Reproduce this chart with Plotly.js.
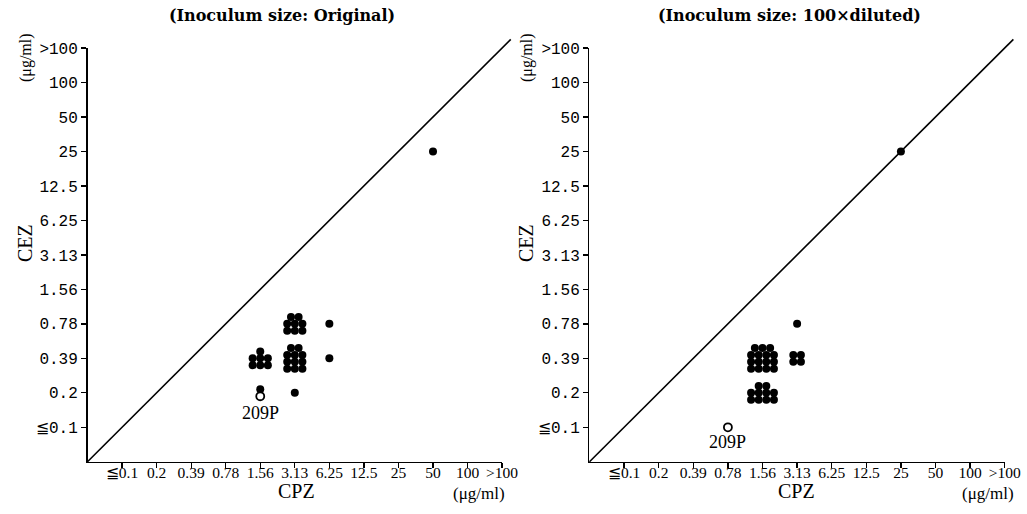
<!DOCTYPE html>
<html>
<head>
<meta charset="utf-8">
<script src="https://cdn.plot.ly/plotly-3.0.1.min.js"></script>
<style>html,body{margin:0;padding:0;background:#fff;}#chart{width:1027px;height:514px;}</style>
</head>
<body>
<div id="chart"></div>
<script>
// MIC scale (tick labels, in order from low to high)
const micLabels = ['≦0.1', '0.2', '0.39', '0.78', '1.56', '3.13', '6.25', '12.5', '25', '50', '100', '>100'];

// Panel 1: Inoculum size Original — each entry = MIC cell (CPZ, CEZ) with number of strains
const origCPZ   = ['50', '1.56', '1.56', '3.13', '3.13', '3.13', '6.25', '6.25'];
const origCEZ   = ['25', '0.39', '0.2',  '0.2',  '0.78', '0.39', '0.78', '0.39'];
const origCount = [1, 7, 1, 1, 8, 11, 1, 1];
const origCols  = [1, 3, 1, 1, 3, 3, 1, 1];
const origOpenCPZ = ['1.56'];
const origOpenCEZ = ['0.2'];
const origOpenName = ['209P'];

// Panel 2: Inoculum size 100x diluted
const dilCPZ   = ['25', '3.13', '3.13', '1.56', '1.56'];
const dilCEZ   = ['25', '0.78', '0.39', '0.39', '0.2'];
const dilCount = [1, 1, 4, 15, 10];
const dilCols  = [1, 1, 2, 4, 4];
const dilOpenCPZ = ['0.78'];
const dilOpenCEZ = ['≦0.1'];
const dilOpenName = ['209P'];

const lvl = v => micLabels.indexOf(v) + 1;
const DX = 0.22, DY = 0.2;

function buildCluster(cpz, cez, count, cols, openCPZ, openCEZ) {
  const fx = [], fy = [], ox = [], oy = [];
  cpz.forEach((c, i) => {
    const cx = lvl(c), cy = lvl(cez[i]);
    const kinds = [];
    for (let k = 0; k < count[i]; k++) kinds.push('f');
    openCPZ.forEach((oc, j) => { if (oc === c && openCEZ[j] === cez[i]) kinds.push('o'); });
    const n = kinds.length, nc = Math.min(cols[i], n);
    const rows = Math.ceil(n / nc);
    const first = n - (rows - 1) * nc;
    let idx = 0;
    for (let r = 0; r < rows; r++) {
      const k = r === 0 ? first : nc;
      for (let j = 0; j < k; j++) {
        const x = cx + (j - (k - 1) / 2) * DX;
        const y = cy + ((rows - 1) / 2 - r) * DY;
        if (kinds[idx] === 'f') { fx.push(x); fy.push(y); } else { ox.push(x); oy.push(y); }
        idx++;
      }
    }
  });
  openCPZ.forEach((oc, j) => {
    const inCell = cpz.some((c, i) => c === oc && cez[i] === openCEZ[j]);
    if (!inCell) { ox.push(lvl(oc)); oy.push(lvl(openCEZ[j])); }
  });
  return {fx, fy, ox, oy};
}

const p1 = buildCluster(origCPZ, origCEZ, origCount, origCols, origOpenCPZ, origOpenCEZ);
const p2 = buildCluster(dilCPZ, dilCEZ, dilCount, dilCols, dilOpenCPZ, dilOpenCEZ);

const filledMarker = {size: 8, color: '#000', line: {width: 0}};
const openMarker = {size: 8, color: '#fff', line: {width: 1.8, color: '#000'}};

const traces = [
  {x: p1.fx, y: p1.fy, xaxis: 'x', yaxis: 'y', mode: 'markers', type: 'scatter', marker: filledMarker, cliponaxis: false, hoverinfo: 'skip'},
  {x: p1.ox, y: p1.oy, xaxis: 'x', yaxis: 'y', mode: 'markers', type: 'scatter', marker: openMarker, cliponaxis: false, hoverinfo: 'skip'},
  {x: p2.fx, y: p2.fy, xaxis: 'x2', yaxis: 'y2', mode: 'markers', type: 'scatter', marker: filledMarker, cliponaxis: false, hoverinfo: 'skip'},
  {x: p2.ox, y: p2.oy, xaxis: 'x2', yaxis: 'y2', mode: 'markers', type: 'scatter', marker: openMarker, cliponaxis: false, hoverinfo: 'skip'}
];

const tickvals = micLabels.map((_, i) => i + 1);
const NL = micLabels.length;
function xax(domain, anchor) {
  return {domain, anchor, range: [0, NL], tickmode: 'array', tickvals, ticktext: micLabels,
    showgrid: false, zeroline: false, showline: true, linecolor: '#000', linewidth: 1.5,
    ticks: 'outside', ticklen: 5, tickwidth: 1.3, tickcolor: '#000', ticklabelstandoff: -9,
    tickfont: {family: 'Liberation Serif', size: 15.5, color: '#000'}, fixedrange: true};
}
function yax(domain, anchor) {
  return {domain, anchor, range: [0, NL], tickmode: 'array', tickvals, ticktext: micLabels,
    showgrid: false, zeroline: false, showline: true, linecolor: '#000', linewidth: 1.5,
    ticks: 'outside', ticklen: 5, tickwidth: 1.3, tickcolor: '#000',
    tickfont: {family: 'Liberation Mono', size: 16, color: '#000'}, fixedrange: true};
}

const yDom = [0.1016, 0.9066];
const ext = 12.25 / NL; // diagonal overshoot beyond ">100"
const serif = 'Liberation Serif';

const ann = (x, y, text, opts) => Object.assign({xref: 'paper', yref: 'paper', x, y, text, showarrow: false,
  xanchor: 'center', yanchor: 'middle', font: {family: serif, size: 18, color: '#000'}}, opts || {});
const titleFont = {family: 'DejaVu Serif', size: 16, color: '#000', weight: 'bold'};

const annotations = [
  ann(282/1027, 1 - 15/514, '(Inoculum size: Original)', {font: titleFont}),
  ann(789/1027, 1 - 15/514, '(Inoculum size: 100×diluted)', {font: titleFont}),
  ann(296/1027, 1 - 491/514, 'CPZ', {font: {family: serif, size: 20, color: '#000'}}),
  ann(479/1027, 1 - 493/514, '(μg/ml)', {font: {family: serif, size: 17, color: '#000'}}),
  ann(796/1027, 1 - 491/514, 'CPZ', {font: {family: serif, size: 20, color: '#000'}}),
  ann(988/1027, 1 - 493/514, '(μg/ml)', {font: {family: serif, size: 17, color: '#000'}}),
  ann(25/1027, 1 - 243/514, 'CEZ', {textangle: -90, font: {family: serif, size: 20, color: '#000'}}),
  ann(26/1027, 1 - 58/514, '(μg/ml)', {textangle: -90, font: {family: serif, size: 16, color: '#000'}}),
  ann(526/1027, 1 - 243/514, 'CEZ', {textangle: -90, font: {family: serif, size: 20, color: '#000'}}),
  ann(527/1027, 1 - 58/514, '(μg/ml)', {textangle: -90, font: {family: serif, size: 16, color: '#000'}})
];
origOpenName.forEach((t, i) => annotations.push({xref: 'x', yref: 'y', x: p1.ox[i], y: p1.oy[i], text: t, showarrow: false,
  yshift: -17, font: {family: serif, size: 18, color: '#000'}}));
dilOpenName.forEach((t, i) => annotations.push({xref: 'x2', yref: 'y2', x: p2.ox[i], y: p2.oy[i], text: t, showarrow: false,
  yshift: -15, font: {family: serif, size: 18, color: '#000'}}));

const layout = {
  width: 1027, height: 514, margin: {l: 0, r: 0, t: 0, b: 0},
  paper_bgcolor: '#fff', plot_bgcolor: '#fff', showlegend: false,
  xaxis: xax([0.0852, 0.4889], 'y'),
  yaxis: yax(yDom, 'x'),
  xaxis2: xax([0.5740, 0.9783], 'y2'),
  yaxis2: yax(yDom, 'x2'),
  shapes: [
    {type: 'line', xref: 'x domain', yref: 'y domain', x0: 0, y0: 0, x1: ext, y1: ext, line: {color: '#000', width: 1.6}},
    {type: 'line', xref: 'x2 domain', yref: 'y2 domain', x0: 0, y0: 0, x1: ext, y1: ext, line: {color: '#000', width: 1.6}}
  ],
  annotations
};

Plotly.newPlot('chart', traces, layout, {staticPlot: true, displayModeBar: false});
</script>
</body>
</html>
